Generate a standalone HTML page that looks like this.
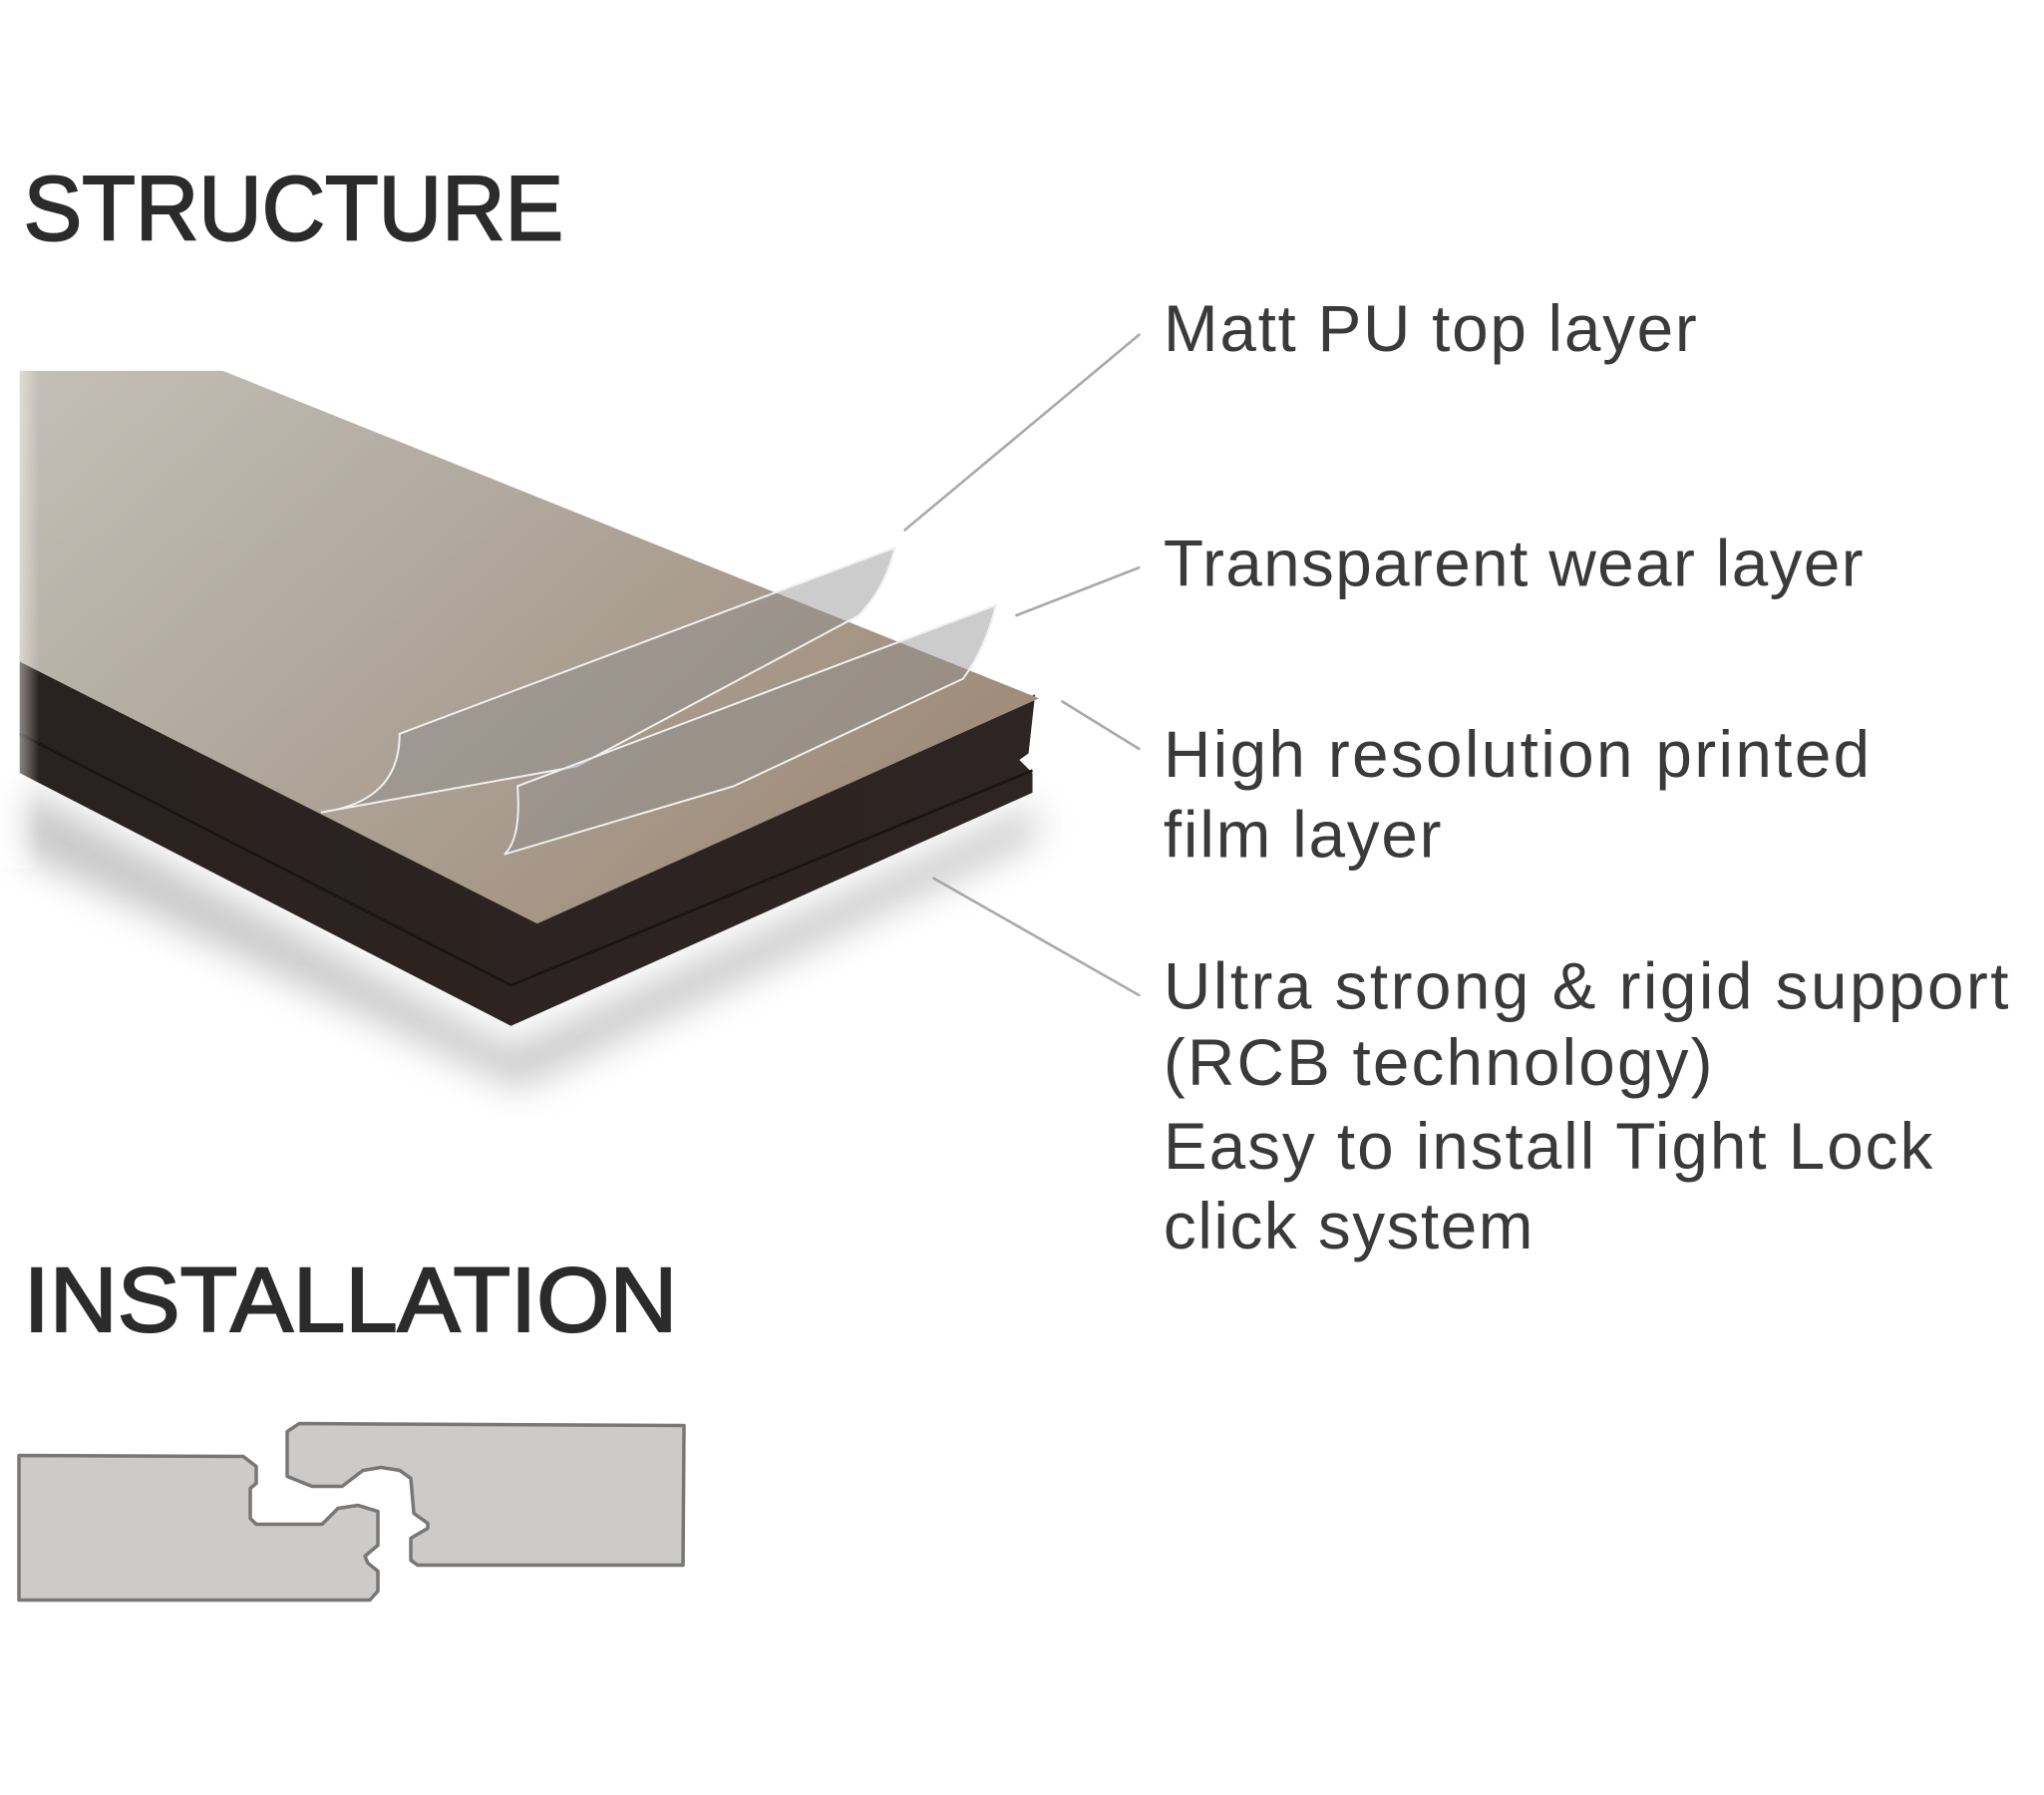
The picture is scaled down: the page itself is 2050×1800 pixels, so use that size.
<!DOCTYPE html>
<html><head><meta charset="utf-8"><style>html,body{margin:0;padding:0;background:#fff}svg{display:block}</style></head>
<body>
<svg width="2050" height="1800" viewBox="0 0 1560 1370" preserveAspectRatio="none" xmlns="http://www.w3.org/2000/svg">
<defs>
<linearGradient id="wood" x1="0" y1="0" x2="1" y2="0.6">
<stop offset="0" stop-color="#c4bfb7"/><stop offset="0.45" stop-color="#b1a89e"/><stop offset="1" stop-color="#9f8c79"/>
</linearGradient>
<linearGradient id="base" x1="0" y1="0" x2="1" y2="0">
<stop offset="0" stop-color="#2a2220"/><stop offset="1" stop-color="#2e2423"/>
</linearGradient>
<filter id="blur"><feGaussianBlur stdDeviation="14"/></filter>
<linearGradient id="fade" x1="0" y1="0" x2="1" y2="0">
<stop offset="0" stop-color="#fff" stop-opacity="0.9"/><stop offset="1" stop-color="#fff" stop-opacity="0"/>
</linearGradient>
</defs>
<rect width="1560" height="1370" fill="#fff"/>
<g font-family="Liberation Sans, sans-serif">
<g fill="#2b2b2b" stroke="#2b2b2b" stroke-width="1.6">
<text x="18" y="183" font-size="70" textLength="412" lengthAdjust="spacingAndGlyphs">STRUCTURE</text>
<text x="18" y="1016" font-size="70" textLength="499" lengthAdjust="spacingAndGlyphs">INSTALLATION</text>
</g>
<g font-size="50" fill="#3a3a3a" lengthAdjust="spacingAndGlyphs">
<text x="888" y="268" textLength="407">Matt PU top layer</text>
<text x="888" y="447" textLength="534">Transparent wear layer</text>
<text x="888" y="593" textLength="539">High resolution printed</text>
<text x="888" y="654" textLength="212">film layer</text>
<text x="888" y="770" textLength="645">Ultra strong &amp; rigid support</text>
<text x="888" y="828" textLength="419">(RCB technology)</text>
<text x="888" y="892" textLength="587">Easy to install Tight Lock</text>
<text x="888" y="953" textLength="282">click system</text>
</g>
</g>
<g stroke="#aaa" stroke-width="2" fill="none">
<line x1="870" y1="255" x2="690" y2="405"/>
<line x1="870" y1="433" x2="775" y2="470"/>
<line x1="870" y1="572" x2="810" y2="535"/>
<line x1="870" y1="760" x2="712" y2="670"/>
</g>
<path d="M15,600 L390,800 L790,615 L790,640 L395,830 L15,650 Z" fill="#999" opacity="0.55" filter="url(#blur)"/>
<path d="M15,500 L410,700 L790,530 L785,575 L778,580 L788,590 L788,605 L390,783 L15,590 Z" fill="url(#base)"/>
<path d="M15,560 L390,752 L788,588" stroke="#1a1413" stroke-width="2" fill="none"/>
<path d="M15,283 L170,283 L793,533 L410,705 L15,505 Z" fill="url(#wood)"/>
<rect x="0" y="283" width="30" height="380" fill="url(#fade)"/>
<path d="M245,620 Q305,612 305,560 L683,418 Q675,450 655,470 L440,585 Z" fill="#8e8e8e" fill-opacity="0.45" stroke="#f0f0f0" stroke-width="1.5"/>
<path d="M385,652 Q398,640 395,600 L760,462 Q752,495 735,518 L560,600 Z" fill="#8e8e8e" fill-opacity="0.45" stroke="#f0f0f0" stroke-width="1.5"/>
<g transform="translate(0,-4) scale(0.761)" fill="#cdcbca" stroke="#777" stroke-width="3.5" stroke-linejoin="round">
<path d="M19,1465 L244,1466 L257,1476 L257,1493 L251,1498 L251,1528 L257,1534 L323,1534 L339,1518 L359,1515 L379,1521 L379,1555 L366,1566 L369,1573 L379,1581 L379,1601 L371,1610 L19,1610 Z"/>
<path d="M300,1433 L686,1435 L685,1575 L419,1575 L412,1570 L412,1548 L429,1538 L429,1533 L415,1523 L412,1488 L401,1480 L382,1477 L364,1480 L343,1496 L313,1496 L288,1486 L288,1441 Z"/>
</g>
</svg>
</body></html>
